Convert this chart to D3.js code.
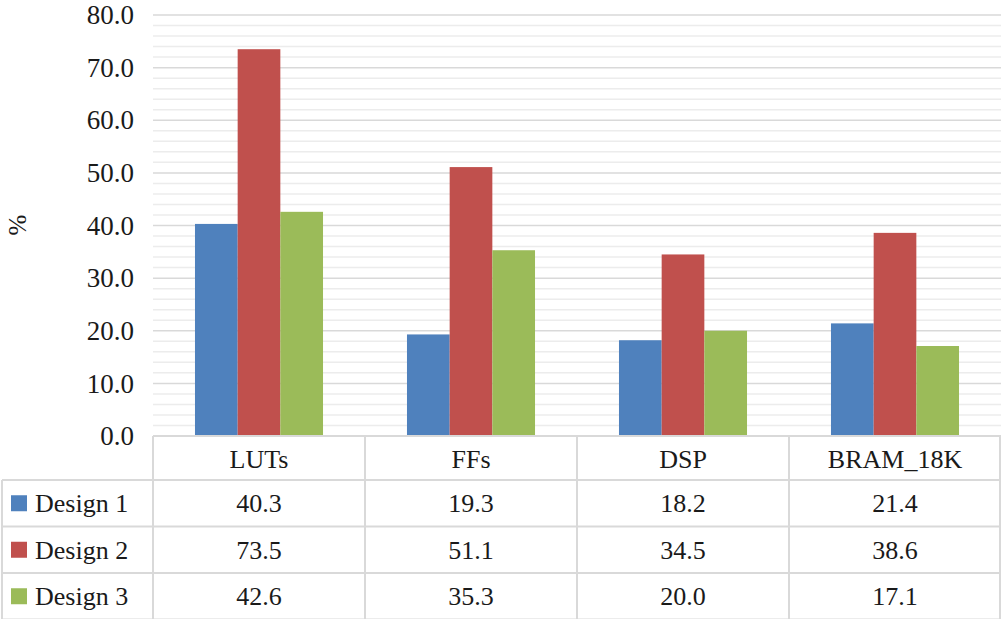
<!DOCTYPE html>
<html>
<head>
<meta charset="utf-8">
<script src="https://cdn.jsdelivr.net/npm/d3@7"></script>
<style>
  body { margin: 0; background: #fff; }
</style>
</head>
<body>
<svg id="chart" width="1002" height="619"></svg>
<script>
// ─── Data ─────────────────────────────────────────────────────────────────────
const categories = ["LUTs", "FFs", "DSP", "BRAM_18K"];
const seriesNames = ["Design 1", "Design 2", "Design 3"];
const design1 = [40.3, 19.3, 18.2, 21.4];
const design2 = [73.5, 51.1, 34.5, 38.6];
const design3 = [42.6, 35.3, 20.0, 17.1];
const yTicks = [0, 10, 20, 30, 40, 50, 60, 70, 80];

const seriesValues = [design1, design2, design3];
const colors = ["#4f81bd", "#c0504d", "#9bbb59"];

// ─── Layout ───────────────────────────────────────────────────────────────────
const svg = d3.select("#chart");
const plotLeft = 153, plotRight = 1001, plotTop = 15, plotBottom = 436;
const headerH = 44, rowH = 46.5;
const gridColor = "#d9d9d9", minorColor = "#ececec";

const x = d3.scaleBand().domain(categories).range([plotLeft, plotRight]);
const gap = x.bandwidth() * 0.396;
const x1 = d3.scaleBand().domain(seriesNames).range([gap / 2, x.bandwidth() - gap / 2]);
const y = d3.scaleLinear().domain([0, 80]).range([plotBottom, plotTop]);

// every label gets the serif face set on itself
function label(sel, size) {
    return sel.attr("font-family", "Liberation Serif")
        .style("font-family", "'Liberation Serif', 'Times New Roman', serif")
        .attr("font-size", size).attr("fill", "#1a1a1a");
}

// ─── Gridlines ────────────────────────────────────────────────────────────────
const minor = d3.range(0, 80, 2).filter(v => v % 10 !== 0);
svg.append("g").selectAll("line").data(minor).join("line")
    .attr("x1", plotLeft).attr("x2", plotRight)
    .attr("y1", d => y(d)).attr("y2", d => y(d))
    .attr("stroke", minorColor).attr("stroke-width", 1.5);

svg.append("g").selectAll("line").data(yTicks.filter(v => v > 0)).join("line")
    .attr("x1", plotLeft).attr("x2", plotRight)
    .attr("y1", d => y(d)).attr("y2", d => y(d))
    .attr("stroke", gridColor).attr("stroke-width", 1.5);

// ─── Y tick labels ────────────────────────────────────────────────────────────
svg.append("g").selectAll("text").data(yTicks).join("text")
    .attr("x", 134).attr("y", d => y(d)).attr("dy", "0.34em")
    .attr("text-anchor", "end")
    .text(d => d.toFixed(1))
    .call(label, 27);

svg.append("text")
    .attr("transform", "translate(26,225) rotate(-90)")
    .attr("text-anchor", "middle")
    .text("%")
    .call(label, 25);

// ─── Bars ─────────────────────────────────────────────────────────────────────
const groups = svg.append("g").selectAll("g").data(categories).join("g")
    .attr("transform", d => `translate(${x(d)},0)`);

groups.selectAll("rect")
    .data((c, i) => seriesNames.map((s, j) => ({ s, v: seriesValues[j][i], j })))
    .join("rect")
    .attr("x", d => x1(d.s)).attr("width", x1.bandwidth())
    .attr("y", d => y(d.v)).attr("height", d => y(0) - y(d.v))
    .attr("fill", d => colors[d.j]);

// ─── Data table ───────────────────────────────────────────────────────────────
const tableBottom = plotBottom + headerH + rowH * 3;
const tbl = svg.append("g").attr("stroke", gridColor).attr("stroke-width", 2);

// horizontal lines
tbl.append("line").attr("x1", plotLeft).attr("x2", plotRight)
    .attr("y1", plotBottom).attr("y2", plotBottom);
d3.range(4).forEach(r => {
    const yy = plotBottom + headerH + r * rowH;
    tbl.append("line").attr("x1", 2).attr("x2", plotRight).attr("y1", yy).attr("y2", yy);
});
// vertical lines
tbl.append("line").attr("x1", 2).attr("x2", 2)
    .attr("y1", plotBottom + headerH).attr("y2", tableBottom);
categories.forEach(c => {
    tbl.append("line").attr("x1", x(c)).attr("x2", x(c))
        .attr("y1", plotBottom).attr("y2", tableBottom);
});
tbl.append("line").attr("x1", plotRight - 1).attr("x2", plotRight - 1)
    .attr("y1", plotBottom).attr("y2", tableBottom);

// header
svg.append("g").selectAll("text").data(categories).join("text")
    .attr("x", d => x(d) + x.bandwidth() / 2)
    .attr("y", plotBottom + headerH / 2 + 1).attr("dy", "0.34em")
    .attr("text-anchor", "middle")
    .text(d => d)
    .call(label, 26);

// rows
seriesNames.forEach((s, j) => {
    const cy = plotBottom + headerH + j * rowH + rowH / 2;
    svg.append("rect").attr("x", 11).attr("y", cy - 8).attr("width", 16).attr("height", 16)
        .attr("fill", colors[j]);
    svg.append("text").attr("x", 35).attr("y", cy).attr("dy", "0.34em")
        .text(s)
        .call(label, 26);
    svg.append("g").selectAll("text").data(categories).join("text")
        .attr("x", d => x(d) + x.bandwidth() / 2)
        .attr("y", cy).attr("dy", "0.34em")
        .attr("text-anchor", "middle")
        .text((d, i) => seriesValues[j][i].toFixed(1))
        .call(label, 26);
});
</script>
</body>
</html>
